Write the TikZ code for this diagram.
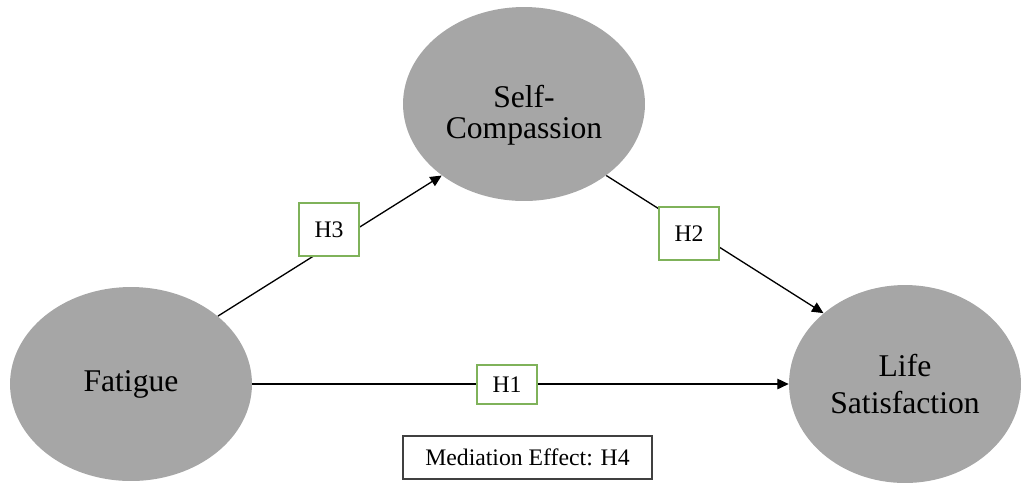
\documentclass[tikz,border=0pt]{standalone}
\usepackage{fontspec}
\setmainfont{Liberation Serif}
\usetikzlibrary{shapes.geometric,arrows.meta}
\definecolor{ellfill}{HTML}{A6A6A6}
\definecolor{hgreen}{HTML}{7FB25A}
\definecolor{medgray}{HTML}{404040}
\tikzset{
  construct/.style={ellipse, fill=ellfill, draw=none, inner sep=0pt, align=center,
    font=\fontsize{18}{18}\selectfont},
  hbox/.style={draw=hgreen, fill=white, line width=0.6pt, inner sep=0pt,
    minimum width=1.2cm, font=\fontsize{13.5}{16}\selectfont},
  path/.style={draw=black, line width=0.75pt, -{Triangle[length=6.5pt,width=6pt]}},
  medbox/.style={draw=medgray, fill=white, line width=0.8pt, inner sep=0pt,
    minimum width=4.98cm, minimum height=0.86cm, font=\fontsize{13.5}{16}\selectfont}
}
\begin{document}
\begin{tikzpicture}[x=0.02cm,y=-0.02cm]
\useasboundingbox (0,0) rectangle (1021,485);
\node[construct, minimum width=4.84cm, minimum height=3.88cm] (F) at (131,384) {Fatigue};
\node[construct, minimum width=4.84cm, minimum height=3.88cm] (SC) at (524,104) {};
\node[align=center, font=\fontsize{18}{17.6}\selectfont, inner sep=0pt] (SCt) at (524,115) {Self-\\Compassion};
\node[construct, minimum width=4.64cm, minimum height=3.96cm, font=\fontsize{18}{21.6}\selectfont] (LS) at (905,384) {Life\\Satisfaction};
\draw[path] (F.east) -- (LS.west);
\draw[path] (F.38) -- (SC.221);
\draw[path] (SC.-41) -- (LS.139);
\node[hbox, minimum height=0.78cm] (H1) at (507,384.5) {H1};
\node[hbox, minimum height=1.06cm] (H3) at (329,229.5) {H3};
\node[hbox, minimum height=1.06cm] (H2) at (689,233.5) {H2};
\node[medbox] (M) at (527.5,457.5) {Mediation Effect: H4};
\end{tikzpicture}
\end{document}
